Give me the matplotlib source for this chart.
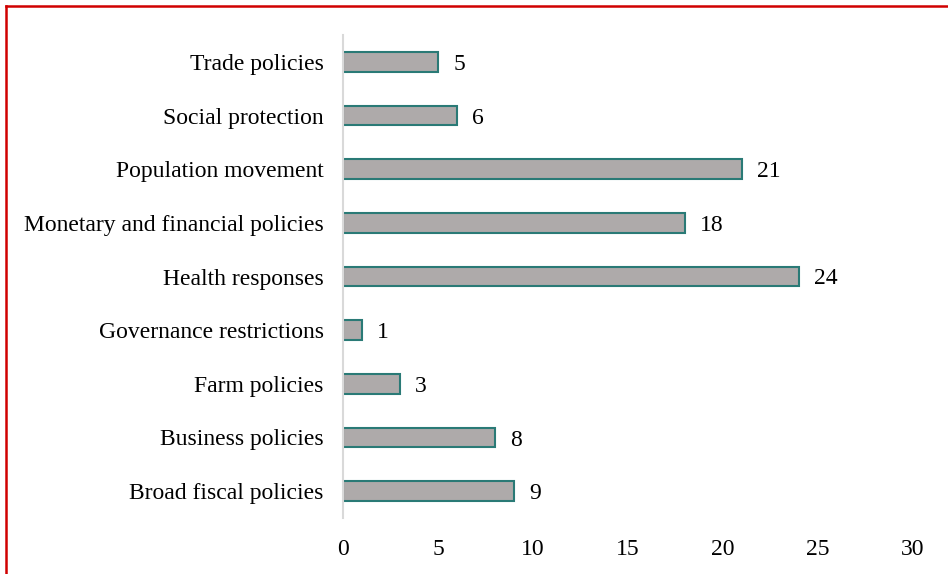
import matplotlib.pyplot as plt
from matplotlib.lines import Line2D

categories = [
    "Broad fiscal policies",
    "Business policies",
    "Farm policies",
    "Governance restrictions",
    "Health responses",
    "Monetary and financial policies",
    "Population movement",
    "Social protection",
    "Trade policies",
]
counts = [9, 8, 3, 1, 24, 18, 21, 6, 5]
xticks = [0, 5, 10, 15, 20, 25, 30]

plt.rcParams["font.family"] = ["Liberation Serif", "DejaVu Serif"]

W, H = 948, 574
fig = plt.figure(figsize=(W / 100, H / 100), dpi=100)
ax = fig.add_axes([343 / W, 1 - 518 / H, (913 - 343) / W, (518 - 35) / H])

ypos = range(len(categories))
ax.barh(ypos, counts, height=0.37, color="#aeaaaa", edgecolor="#2a7a76", linewidth=1.5)

for y, v in zip(ypos, counts):
    ax.annotate(str(v), (v, y), xytext=(11, 0), textcoords="offset points",
                ha="left", va="center_baseline", fontsize=17)

ax.set_xlim(0, 30)
ax.set_ylim(-0.5, len(categories) - 0.5)
ax.set_yticks(list(ypos))
ax.set_yticklabels(categories, va="center_baseline")
ax.set_xticks(xticks)
ax.tick_params(axis="both", length=0, labelsize=17)
ax.tick_params(axis="x", pad=15)
ax.tick_params(axis="y", pad=14)

for side in ["top", "right", "bottom"]:
    ax.spines[side].set_visible(False)
ax.spines["left"].set_color("#d9d9d9")
ax.spines["left"].set_linewidth(1.5)

# red frame around the figure (left and top edges visible)
fig.add_artist(Line2D([5.5 / W, 5.5 / W], [0, 1 - 6 / H], color="#d00000", lw=1.8,
                      transform=fig.transFigure))
fig.add_artist(Line2D([5.5 / W, 1], [1 - 6 / H, 1 - 6 / H], color="#d00000", lw=1.8,
                      transform=fig.transFigure))

fig.savefig("out.png", dpi=100)
